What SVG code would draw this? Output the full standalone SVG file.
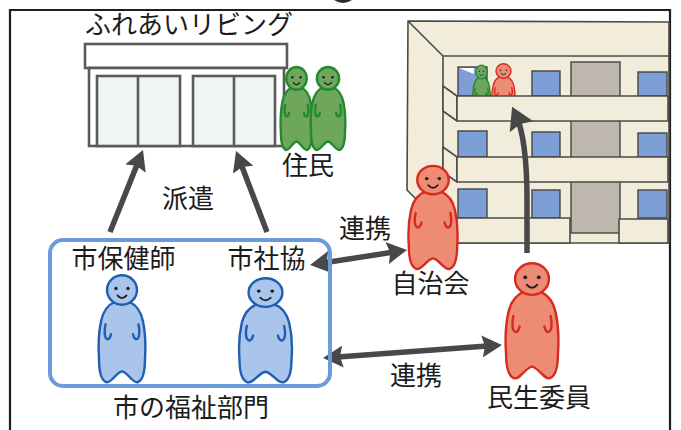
<svg xmlns="http://www.w3.org/2000/svg" xmlns:xlink="http://www.w3.org/1999/xlink" width="681" height="430" viewBox="0 0 681 430">
  <style>
    .lbl { font-family: "Noto Sans CJK JP", "Noto Sans CJK SC", sans-serif; font-size: 26px; fill: #1c1c1c; text-anchor: middle; }
    .bline { fill: none; stroke: #4a4a4a; stroke-width: 1.6; stroke-linejoin: round; }
    .wall { fill: #F2EDDA; stroke: #4a4a4a; stroke-width: 1.6; stroke-linejoin: round; }
    .win { fill: #7D9ED6; stroke: #454545; stroke-width: 1.4; }
    .door { fill: #BDB7AE; stroke: #454545; stroke-width: 1.4; }
    .shop { fill: #F1F4F4; stroke: #5a5a5a; stroke-width: 2.6; }
    .conn { fill: none; stroke: #484848; stroke-width: 5.5; }
    .blue { fill: #A9C5EB; stroke: #1F5EB2; stroke-width: 2.4; }
    .red { fill: #EE8B74; stroke: #D82A1F; stroke-width: 2.4; }
    .green { fill: #6EA75B; stroke: #248A2F; stroke-width: 2.4; }
    .small { stroke-width: 1.4; }
  </style>
  <defs>
    <marker id="ah" viewBox="0 0 20 22" refX="12" refY="11" markerWidth="20" markerHeight="22" markerUnits="userSpaceOnUse" orient="auto-start-reverse">
      <path d="M0 0 L20 11 L0 22 L3 11 Z" fill="#484848"/>
    </marker>
    <marker id="ahBig" viewBox="0 0 22 26" refX="14" refY="13" markerWidth="22" markerHeight="26" markerUnits="userSpaceOnUse" orient="auto">
      <path d="M0 0 L22 13 L0 26 L3 13 Z" fill="#484848"/>
    </marker>
    <!-- standing figure, head centre at origin, head radius 15 -->
    <symbol id="person" overflow="visible">
      <path vector-effect="non-scaling-stroke" d="M -7 12 C -14 15 -19 22 -21 32 C -23 42 -24 55 -23 70 C -23 82 -21 92 -16 94 C -11 96 -6 84 0 83 C 6 84 11 96 16 94 C 21 92 23 82 23 70 C 24 55 23 42 21 32 C 19 22 14 15 7 12 Z"/>
      <path vector-effect="non-scaling-stroke" fill="none" stroke-linecap="round" d="M -16.5 35 C -18 42 -17.5 49 -15 50 C -13 51 -11.5 48 -11 45"/>
      <path vector-effect="non-scaling-stroke" fill="none" stroke-linecap="round" d="M 16.5 35 C 18 42 17.5 49 15 50 C 13 51 11.5 48 11 45"/>
      <circle vector-effect="non-scaling-stroke" cx="0" cy="0" r="15"/>
      <circle cx="-6" cy="-1.5" r="1.7" fill="#1c1c1c" stroke="none"/>
      <circle cx="6" cy="-1.5" r="1.7" fill="#1c1c1c" stroke="none"/>
      <path d="M -4.5 5.5 Q 0 11 4.5 5.5" fill="none" stroke="#1c1c1c" stroke-width="1.8" stroke-linecap="round"/>
    </symbol>
  </defs>

  <rect width="681" height="430" fill="#ffffff"/>

  <!-- outer frame -->
  <path d="M10 440 L10 10 L670 10 L670 440" fill="none" stroke="#1e1e1e" stroke-width="2.2"/>
  <path d="M334 0 Q343 6 352 0 Z" fill="#2a2a2a"/>

  <!-- community space building -->
  <g id="fureai-living">
    <rect x="85" y="44" width="202" height="24" class="shop" fill="#ffffff" style="fill:#ffffff"/>
    <rect x="89" y="68" width="195" height="78" class="shop" style="fill:#ffffff"/>
    <rect x="97" y="76" width="83" height="70" class="shop"/>
    <line x1="138" y1="76" x2="138" y2="146" class="shop"/>
    <rect x="193" y="76" width="82" height="70" class="shop"/>
    <line x1="234" y1="76" x2="234" y2="146" class="shop"/>
    <text class="lbl" x="189" y="34">ふれあいリビング</text>
  </g>

  <!-- apartment block -->
  <g id="apartment">
    <polygon class="wall" points="408,21 669,22 669,243 443,243 443,226 407,190"/>
    <line class="bline" x1="408" y1="21" x2="443" y2="56"/>
    <line class="bline" x1="443" y1="56" x2="669" y2="56"/>
    <line class="bline" x1="443" y1="56" x2="443" y2="243"/>
    <rect class="door" x="571" y="62" width="49" height="171"/>
    <!-- 3rd floor -->
    <rect class="win" x="458" y="67" width="29" height="29"/>
    <polygon points="459,68 474,68 474,74" fill="#ffffff"/>
    <rect class="win" x="532" y="71" width="28" height="25"/>
    <rect class="win" x="638" y="72" width="29" height="24"/>
    <g id="small-resident">
      <use xlink:href="#person" class="green small" transform="translate(481.5,72) scale(0.38,0.46)"/>
    </g>
    <g id="small-volunteer">
      <use xlink:href="#person" class="red small" transform="translate(503.5,71) scale(0.5,0.48)"/>
    </g>
    <polygon class="wall" points="443,86 457,96 457,121 443,111"/>
    <rect class="wall" x="457" y="96" width="211" height="25"/>
    <!-- 2nd floor -->
    <rect class="win" x="458" y="131" width="29" height="26"/>
    <rect class="win" x="532" y="132" width="28" height="25"/>
    <rect class="win" x="638" y="133" width="29" height="24"/>
    <polygon class="wall" points="443,147 457,157 457,182 443,172"/>
    <rect class="wall" x="457" y="157" width="211" height="25"/>
    <!-- 1st floor -->
    <rect class="win" x="458" y="189" width="29" height="29"/>
    <rect class="win" x="532" y="190" width="28" height="28"/>
    <rect class="win" x="638" y="190" width="29" height="28"/>
    <rect class="wall" x="457" y="218" width="113" height="25"/>
    <rect class="wall" x="619" y="219" width="49" height="24"/>
  </g>

  <!-- connectors -->
  <g id="connectors">
    <line class="conn" x1="110" y1="232" x2="140" y2="157.4" marker-end="url(#ah)"/>
    <line class="conn" x1="267" y1="232" x2="238.9" y2="158.5" marker-end="url(#ah)"/>
    <line class="conn" x1="317.9" y1="263.8" x2="399.1" y2="251.2" marker-start="url(#ah)" marker-end="url(#ah)"/>
    <line class="conn" x1="331" y1="357.4" x2="494" y2="345.6" marker-start="url(#ah)" marker-end="url(#ah)"/>
    <path class="conn" d="M527 253 L527 200 C527 160 524 132 515.5 114" marker-end="url(#ahBig)"/>
  </g>

  <!-- residents -->
  <g id="residents">
    <use xlink:href="#person" class="green" transform="translate(296.5,78.4) scale(0.68,0.76)"/>
    <use xlink:href="#person" class="green" transform="translate(328,78.4) scale(0.74,0.76)"/>
    <text class="lbl" x="308" y="174.5">住民</text>
  </g>

  <!-- city welfare department -->
  <g id="welfare-dept">
    <rect x="50" y="240" width="280" height="146" rx="13" fill="none" stroke="#6B9BD8" stroke-width="4"/>
    <text class="lbl" x="191" y="416.5">市の福祉部門</text>
  </g>
  <g id="public-health-nurse">
    <use xlink:href="#person" class="blue" transform="translate(122,290) scale(1,0.98)"/>
    <text class="lbl" x="123.5" y="267.5">市保健師</text>
  </g>
  <g id="social-welfare-council">
    <use xlink:href="#person" class="blue" transform="translate(265.5,292.5) scale(1.13,0.955)"/>
    <text class="lbl" x="266.5" y="267.5">市社協</text>
  </g>

  <g id="neighborhood-association">
    <use xlink:href="#person" class="red" transform="translate(433,180) scale(1.05,0.945)"/>
    <text class="lbl" x="430.5" y="292.5">自治会</text>
  </g>
  <g id="welfare-commissioner">
    <use xlink:href="#person" class="red" transform="translate(532,279) scale(1.13,1.055)"/>
    <text class="lbl" x="539" y="406.5">民生委員</text>
  </g>

  <g id="labels">
    <text class="lbl" x="188" y="207.5">派遣</text>
    <text class="lbl" x="365" y="237.5">連携</text>
    <text class="lbl" x="416" y="384.5">連携</text>
  </g>
</svg>
